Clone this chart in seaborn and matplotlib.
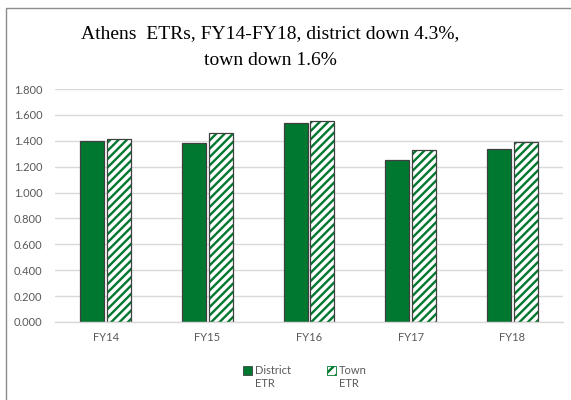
import matplotlib
matplotlib.use("Agg")
import matplotlib.pyplot as plt
import seaborn as sns
import pandas as pd
from matplotlib.patches import Patch, Rectangle
from matplotlib.ticker import FuncFormatter, MultipleLocator

years = ["FY14", "FY15", "FY16", "FY17", "FY18"]
district_etr = [1.398, 1.386, 1.540, 1.249, 1.337]
town_etr = [1.414, 1.458, 1.553, 1.332, 1.391]
series_names = ["District ETR", "Town ETR"]
title_text = "Athens  ETRs, FY14-FY18, district down 4.3%,\ntown down 1.6%"

GREEN = "#00782F"
EDGE = "#404040"
GRID = "#D9D9D9"
TXT = "#595959"

df = pd.DataFrame({
    "year": years * 2,
    "series": [series_names[0]] * len(years) + [series_names[1]] * len(years),
    "value": district_etr + town_etr,
})

sns.set_theme(style="white")
plt.rcParams["font.family"] = ["Lato", "DejaVu Sans"]
plt.rcParams["hatch.linewidth"] = 1.7

fig = plt.figure(figsize=(5.71, 4.0), dpi=100)
ax = fig.add_axes([55 / 571, 1 - 322 / 400, (563 - 55) / 571, (322 - 89) / 400])

sns.barplot(data=df, x="year", y="value", hue="series", order=years,
            hue_order=series_names, palette={series_names[0]: GREEN, series_names[1]: "white"},
            width=0.53, gap=0.11, legend=False, ax=ax, saturation=1)

for bar in ax.containers[0]:
    bar.set_edgecolor(EDGE)
    bar.set_linewidth(0.9)
for bar in ax.containers[1]:
    bar.set_hatch("////")
    bar.set_edgecolor(GREEN)
    bar.set_linewidth(0)
    r = Rectangle(bar.get_xy(), bar.get_width(), bar.get_height(), fill=False,
                  edgecolor=EDGE, linewidth=0.9, zorder=bar.get_zorder() + 0.1)
    ax.add_patch(r)

ax.set_ylim(0, 1.8)
ax.set_xlim(-0.5, len(years) - 0.5)
ax.yaxis.set_major_locator(MultipleLocator(0.2))
ax.yaxis.set_major_formatter(FuncFormatter(lambda v, p: f"{v:.3f}"))
ax.grid(axis="y", color=GRID, linewidth=1.0)
ax.set_axisbelow(True)
for s in ["top", "right", "left"]:
    ax.spines[s].set_visible(False)
ax.spines["bottom"].set_color(GRID)
ax.spines["bottom"].set_linewidth(1.0)
ax.tick_params(axis="both", length=0, labelsize=8, labelcolor=TXT)
ax.tick_params(axis="y", pad=9)
ax.tick_params(axis="x", pad=7)
ax.set_xlabel("")
ax.set_ylabel("")

fig.text(270 / 571, 1 - 47 / 400, title_text, ha="center", va="center",
         fontsize=14, family="Liberation Serif", color="#000000", linespacing=1.78)

handles = [
    Patch(facecolor=GREEN, edgecolor=EDGE, linewidth=0.6),
    Patch(facecolor="white", edgecolor=GREEN, hatch="///", linewidth=0.6),
]
labels = [s.replace(" ", "\n") for s in series_names]
leg = fig.legend(handles, labels, loc="upper center", bbox_to_anchor=(305 / 571, 1 - 357 / 400),
                 ncol=2, frameon=False, fontsize=8, handlelength=0.8, handleheight=0.8,
                 handletextpad=0.3, columnspacing=3.2, labelcolor=TXT, borderpad=0.2)
for h in leg.legend_handles:
    h.set_y(h.get_y() + 5)

border = Rectangle((6 / 571, -0.1), 1.2, 1 - 8 / 400 + 0.1, transform=fig.transFigure,
                   fill=False, edgecolor="#8C8C8C", linewidth=1.0)
fig.add_artist(border)

fig.savefig("out.png", dpi=100)
